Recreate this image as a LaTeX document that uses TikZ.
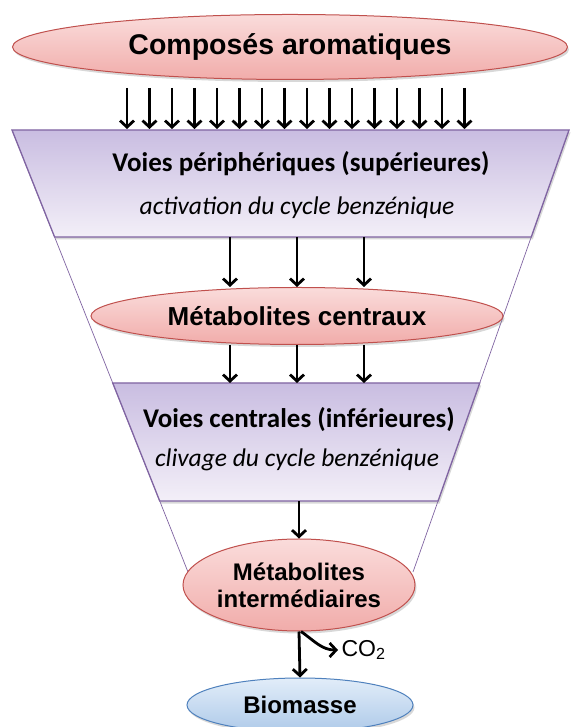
\documentclass[tikz,border=0pt]{standalone}
\usepackage{fontspec}
\setmainfont{Liberation Sans}
\newfontfamily\calibri{Carlito}
\definecolor{roseclair}{RGB}{250,220,219}
\definecolor{rosefonce}{RGB}{241,172,170}
\definecolor{rougebord}{RGB}{192,80,77}
\definecolor{violetclair}{RGB}{243,239,248}
\definecolor{violetfonce}{RGB}{201,189,225}
\definecolor{violetbord}{RGB}{128,100,162}
\definecolor{bleuclair}{RGB}{226,237,249}
\definecolor{bleufonce}{RGB}{174,202,233}
\definecolor{bleubord}{RGB}{79,129,189}
\usetikzlibrary{arrows.meta,positioning,calc,shapes.geometric,shadows}

\tikzset{
  ombre/.style={drop shadow={opacity=0.3, shadow xshift=1.5pt, shadow yshift=-2.5pt}},
  metab/.style={ellipse, draw=rougebord, line width=1pt, top color=roseclair,
                bottom color=rosefonce, inner sep=0pt, ombre},
  voie/.style={draw=violetbord, line width=1.3pt, top color=violetfonce,
               bottom color=violetclair, ombre},
  fleche/.style={line width=2.8pt, -{Straight Barb[length=6.5pt,width=14pt]}},
  titre/.style={font=\fontsize{#1}{#1}\selectfont\bfseries},
  gras/.style={anchor=base, font=\calibri\fontsize{27}{27}\selectfont\bfseries},
  italique/.style={anchor=base, font=\calibri\fontsize{25.5}{25.5}\selectfont\itshape},
}

\begin{document}
\begin{tikzpicture}[x=1pt, y=1pt]
    \fill[white] (0,0) rectangle (579,727);
    \useasboundingbox (0,0) rectangle (579,727);
    \clip (0,0) rectangle (579,727);

    % entonnoir
    \coordinate (fhg) at (12,597);
    \coordinate (fhd) at (569,597);
    \coordinate (fbg) at (188,155);
    \coordinate (fbd) at (413,155);
    \draw[violetbord, line width=0.7pt] (fhg) -- (fbg) (fhd) -- (fbd);

    % voies peripheriques
    \coordinate (v1bg) at ($(fhg)!0.242!(fbg)$);
    \coordinate (v1bd) at ($(fhd)!0.242!(fbd)$);
    \path[voie] (fhg) -- (fhd) -- (v1bd) -- (v1bg) -- cycle;
    \node[gras] (perif) at (301,555) {Voies périphériques (supérieures)};
    \node[italique] (activ) at (297,512) {activation du cycle benzénique};

    % voies centrales
    \coordinate (v2hg) at ($(fhg)!0.5724!(fbg)$);
    \coordinate (v2hd) at ($(fhd)!0.5724!(fbd)$);
    \coordinate (v2bg) at ($(fhg)!0.8394!(fbg)$);
    \coordinate (v2bd) at ($(fhd)!0.8394!(fbd)$);
    \path[voie] (v2hg) -- (v2hd) -- (v2bd) -- (v2bg) -- cycle;
    \node[gras] (centrales) at (299,299) {Voies centrales (inférieures)};
    \node[italique] (clivage) at (297,260) {clivage du cycle benzénique};

    % metabolites
    \node[metab, titre=28.5, minimum width=555, minimum height=65] (compos) at (290,680)
      {Composés aromatiques};
    \node[metab, titre=26, minimum width=412, minimum height=57] (centraux) at (297,411)
      {Métabolites centraux};
    \node[metab, titre=24, minimum width=226, minimum height=92, align=center] (interm)
      at (299,142) {Métabolites\\[3pt]intermédiaires};
    \node[ellipse, draw=bleubord, line width=1pt, top color=bleuclair,
          bottom color=bleufonce, ombre, titre=24, inner sep=0pt,
          minimum width=226, minimum height=54] (biomasse) at (300,22) {Biomasse};
    \node[anchor=west, font=\fontsize{23}{23}\selectfont] (co2) at (338,77)
      {CO\textsubscript{2}};

    % fleches
    \foreach \i in {0,...,15}
      \draw[fleche] ($(compos.south)+(-163+22.5*\i,-8)$) -- ++(0,-41);
    \foreach \dx in {-67,0,67} {
      \draw[fleche] ([xshift=\dx]centraux.north |- v1bg) -- ([xshift=\dx]centraux.north);
      \draw[fleche] ([xshift=\dx]centraux.south) -- ([xshift=\dx]centraux.south |- v2hg);
    }
    \draw[fleche] (interm.north |- v2bg) -- (interm.north);
    \draw[fleche] (interm.south) -- (biomasse.north);
    \draw[fleche] ([xshift=2]interm.south) to[out=-35, in=180] (co2.west);
  \end{tikzpicture}
\end{document}
